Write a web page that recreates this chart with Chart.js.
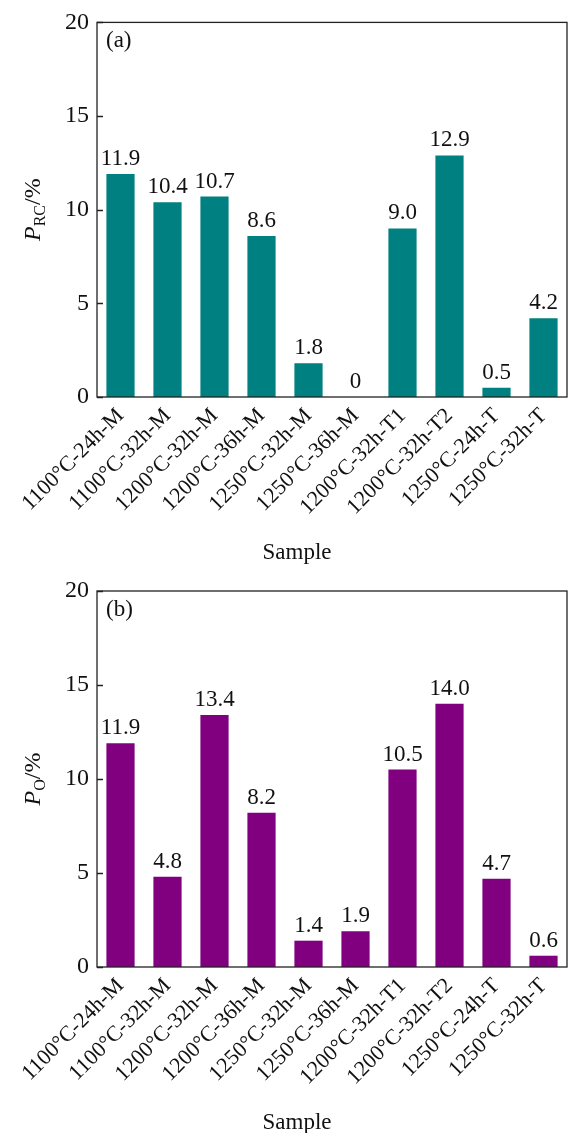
<!DOCTYPE html>
<html>
<head>
<meta charset="utf-8">
<script src="https://cdn.jsdelivr.net/npm/chart.js@4/dist/chart.umd.min.js"></script>
<style>
  html, body { margin: 0; padding: 0; background: #fff; }
  .panel { position: absolute; left: 0; width: 569px; }
  #wrapA { top: 0; height: 566px; }
  #wrapB { top: 566px; height: 567px; }
</style>
</head>
<body>
<div class="panel" id="wrapA"><canvas id="chartA"></canvas></div>
<div class="panel" id="wrapB"><canvas id="chartB"></canvas></div>
<script>
// Sample names (heat-treatment temperature - time - type)
const samples = [
  '1100°C-24h-M', '1100°C-32h-M', '1200°C-32h-M', '1200°C-36h-M', '1250°C-32h-M',
  '1250°C-36h-M', '1200°C-32h-T1', '1200°C-32h-T2', '1250°C-24h-T', '1250°C-32h-T'
];
// P_RC (%) per sample
const pRC = [11.9, 10.4, 10.7, 8.6, 1.8, 0, 9.0, 12.9, 0.5, 4.2];
// P_O (%) per sample
const pO = [11.9, 4.8, 13.4, 8.2, 1.4, 1.9, 10.5, 14.0, 4.7, 0.6];
// y-axis tick values
const yTicks = [0, 5, 10, 15, 20];

const SERIF = '"Liberation Serif", "Times New Roman", Times, serif';

function fmt(v) { return v === 0 ? '0' : v.toFixed(1); }

// Frame, inward ticks, value labels, panel tag, axis titles
function decorPlugin(tag, subscript, xTitleY) {
  return {
    id: 'decor',
    afterDraw(chart) {
      const ctx = chart.ctx;
      const a = chart.chartArea;
      const ys = chart.scales.y;
      ctx.save();
      ctx.strokeStyle = '#222';
      ctx.lineWidth = 1.3;
      ctx.strokeRect(a.left, a.top, a.right - a.left, a.bottom - a.top);
      ctx.beginPath();
      yTicks.forEach(t => {
        const py = Math.round(ys.getPixelForValue(t)) + 0.5;
        ctx.moveTo(a.left, py);
        ctx.lineTo(a.left + 6, py);
      });
      ctx.stroke();

      // value labels
      ctx.fillStyle = '#111';
      ctx.font = '23px ' + SERIF;
      ctx.textAlign = 'center';
      ctx.textBaseline = 'alphabetic';
      const meta = chart.getDatasetMeta(0);
      const vals = chart.data.datasets[0].data;
      meta.data.forEach((bar, i) => {
        ctx.fillText(fmt(vals[i]), bar.x, bar.y - 9);
      });

      // panel tag
      ctx.textAlign = 'left';
      ctx.textBaseline = 'middle';
      ctx.fillText(tag, a.left + 9, a.top + 19);

      // x title
      ctx.textAlign = 'center';
      ctx.textBaseline = 'middle';
      ctx.fillText('Sample', 297, xTitleY);

      // y title: italic P with subscript, then /%
      const cy = (a.top + a.bottom) / 2;
      ctx.translate(40, cy);
      ctx.rotate(-Math.PI / 2);
      ctx.textBaseline = 'alphabetic';
      ctx.textAlign = 'left';
      const fMain = 'italic 24px ' + SERIF;
      const fSub = '16px ' + SERIF;
      const fRest = '24px ' + SERIF;
      ctx.font = fMain; const wP = ctx.measureText('P').width;
      ctx.font = fSub; const wS = ctx.measureText(subscript).width;
      ctx.font = fRest; const wR = ctx.measureText('/%').width;
      let x = -(wP + wS + wR) / 2;
      ctx.font = fMain; ctx.fillText('P', x, 0); x += wP;
      ctx.font = fSub; ctx.fillText(subscript, x, 5); x += wS;
      ctx.font = fRest; ctx.fillText('/%', x, 0);
      ctx.restore();
    }
  };
}

function makeChart(id, data, color, tag, sub, padTop, xHeight, xTitleY) {
  return new Chart(document.getElementById(id), {
    type: 'bar',
    data: {
      labels: samples,
      datasets: [{
        data: data,
        backgroundColor: color,
        borderWidth: 0,
        barPercentage: 0.6,
        categoryPercentage: 1.0
      }]
    },
    options: {
      responsive: true,
      maintainAspectRatio: false,
      animation: false,
      layout: { padding: { top: padTop, right: 2, left: 0, bottom: 0 } },
      plugins: { legend: { display: false }, tooltip: { enabled: false } },
      scales: {
        x: {
          grid: { display: false, drawTicks: false },
          border: { display: false },
          ticks: {
            color: '#111',
            font: { family: SERIF, size: 22 },
            minRotation: 45,
            maxRotation: 45,
            padding: 6,
            autoSkip: false
          },
          afterFit(s) { s.height = xHeight; }
        },
        y: {
          min: 0,
          max: 20,
          grid: { display: false, drawTicks: false },
          border: { display: false },
          afterBuildTicks(s) { s.ticks = yTicks.map(v => ({ value: v })); },
          ticks: {
            color: '#111',
            font: { family: SERIF, size: 24 },
            padding: 8
          },
          afterFit(s) { s.width = 97; }
        }
      }
    },
    plugins: [decorPlugin(tag, sub, xTitleY)]
  });
}

makeChart('chartA', pRC, '#008080', '(a)', 'RC', 21, 169, 553);
makeChart('chartB', pO, '#800080', '(b)', 'O', 25, 166, 557);
</script>
</body>
</html>
